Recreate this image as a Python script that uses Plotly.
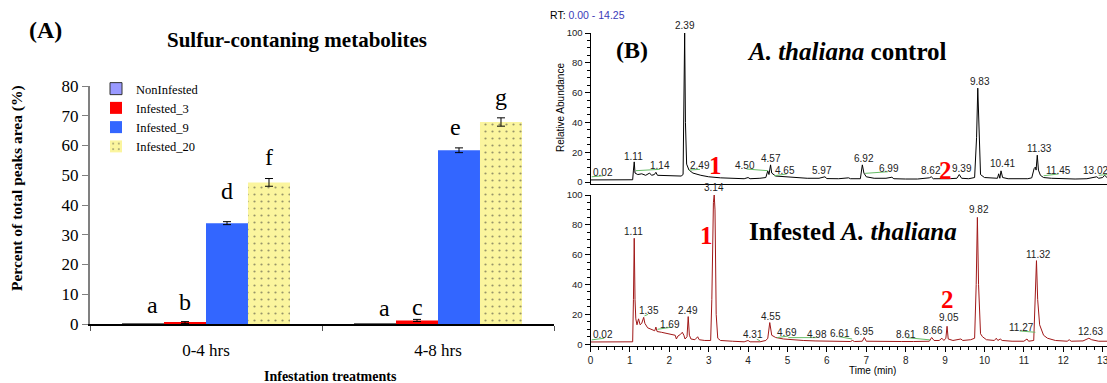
import plotly.graph_objects as go

W, H = 1107, 383
SERIF = "Liberation Serif, Times New Roman, serif"
SANS = "Liberation Sans, Arial, sans-serif"

# ---------------- Panel A data ----------------
groups = ["0-4 hrs", "4-8 hrs"]
series_names = ["NonInfested", "Infested_3", "Infested_9", "Infested_20"]
val_noninfested = [0.0, 0.0]
val_infested_3 = [0.5, 1.2]
val_infested_9 = [33.9, 58.4]
val_infested_20 = [47.6, 67.9]
err_noninfested = [0.0, 0.0]
err_infested_3 = [0.3, 0.35]
err_infested_9 = [0.5, 0.8]
err_infested_20 = [1.3, 1.4]
letters = [["a", "a"], ["b", "c"], ["d", "e"], ["f", "g"]]
letter_y = [[6.4, 5.3], [7.5, 5.8], [44.7, 66.3], [56.2, 76.4]]
letter_xshift = [[9, 9], [0, 0], [0, -4], [0, 0]]

# ---------------- Panel B data ----------------
control_t = [0.00, 0.30, 0.60, 0.90, 1.07, 1.09, 1.11, 1.13, 1.20, 1.30, 1.40, 1.50, 1.55, 1.62, 1.66, 1.70,
             1.85, 2.00, 2.20, 2.30, 2.35, 2.37, 2.39, 2.41, 2.44, 2.50, 2.60, 2.80, 3.00, 3.30, 3.60, 3.90,
             4.00, 4.05, 4.30, 4.45, 4.50, 4.53, 4.57, 4.60, 4.70, 4.90, 5.20, 5.50, 5.80, 5.95, 6.00, 6.30,
             6.55, 6.60, 6.85, 6.90, 6.94, 7.00, 7.20, 7.50, 7.65, 7.70, 8.00, 8.30, 8.60, 8.65, 8.70, 8.90,
             9.10, 9.30, 9.36, 9.42, 9.60, 9.75, 9.80, 9.83, 9.86, 9.90, 10.00, 10.20, 10.33, 10.36, 10.39,
             10.42, 10.46, 10.60, 10.90, 11.10, 11.20, 11.26, 11.29, 11.31, 11.34, 11.37, 11.42, 11.50, 11.70,
             12.00, 12.30, 12.60, 12.85, 12.90, 13.00, 13.05, 13.11]
control_v = [1.4, 1.5, 1.3, 1.5, 1.5, 8.0, 13.5, 6.0, 5.0, 5.5, 4.5, 6.0, 4.5, 5.0, 6.5, 4.5,
             4.5, 4.0, 4.2, 4.0, 5.0, 60.0, 100.0, 40.0, 12.0, 8.0, 6.0, 4.5, 3.5, 2.8, 2.5, 2.2,
             3.0, 2.2, 2.5, 3.0, 7.5, 5.0, 11.5, 6.0, 4.0, 3.5, 3.0, 2.5, 2.5, 3.5, 2.3, 2.2,
             2.8, 2.2, 2.2, 11.5, 6.0, 3.5, 2.5, 2.5, 3.2, 2.2, 2.0, 2.0, 2.8, 3.5, 2.2, 2.0,
             2.2, 2.5, 5.0, 2.5, 2.2, 3.0, 30.0, 63.0, 30.0, 5.0, 3.0, 2.5, 2.5, 5.5, 2.5,
             7.5, 3.0, 2.2, 2.0, 2.2, 2.8, 9.0, 10.0, 8.0, 18.0, 8.0, 4.5, 3.0, 2.5,
             2.2, 2.0, 2.2, 3.5, 2.5, 3.0, 4.5, 3.0]

infested_t = [0.00, 0.30, 0.60, 0.90, 1.07, 1.09, 1.11, 1.13, 1.15, 1.18, 1.22, 1.26, 1.30, 1.35, 1.38, 1.45,
              1.55, 1.63, 1.66, 1.69, 1.80, 2.00, 2.15, 2.18, 2.22, 2.28, 2.33, 2.37, 2.40, 2.45, 2.48, 2.51,
              2.55, 2.65, 2.72, 2.76, 2.90, 3.05, 3.08, 3.12, 3.14, 3.16, 3.19, 3.23, 3.30, 3.60, 3.90, 4.00,
              4.05, 4.30, 4.45, 4.50, 4.55, 4.60, 4.70, 4.90, 5.10, 5.40, 5.70, 6.00, 6.30, 6.60, 6.65, 6.70,
              6.90, 6.95, 7.00, 7.30, 7.60, 7.90, 8.20, 8.50, 8.60, 8.66, 8.72, 8.85, 8.92, 8.97, 9.02, 9.05,
              9.08, 9.20, 9.40, 9.45, 9.65, 9.75, 9.79, 9.82, 9.85, 9.90, 9.95, 10.05, 10.25, 10.30, 10.34,
              10.40, 10.45, 10.70, 11.00, 11.08, 11.12, 11.25, 11.29, 11.32, 11.35, 11.40, 11.50, 11.60, 11.80,
              12.10, 12.15, 12.20, 12.50, 12.60, 12.65, 12.72, 12.90, 13.11]
infested_v = [1.5, 1.6, 1.5, 1.5, 1.6, 30.0, 71.0, 30.0, 17.0, 13.0, 17.0, 13.0, 14.0, 18.0, 14.0, 11.0,
              10.0, 9.0, 11.5, 8.5, 8.0, 7.0, 6.0, 3.5, 5.5, 6.5, 8.0, 6.0, 3.5, 5.0, 18.5, 6.0,
              3.5, 3.0, 5.0, 3.0, 2.5, 2.5, 30.0, 95.0, 100.0, 90.0, 20.0, 4.0, 2.5, 2.0, 1.6, 2.5,
              1.6, 1.6, 2.5, 4.0, 14.5, 6.0, 4.5, 3.5, 3.0, 2.5, 2.2, 2.0, 1.8, 1.8, 2.5, 1.8,
              2.0, 4.5, 2.0, 1.8, 1.8, 1.8, 1.8, 2.0, 2.0, 4.5, 2.5, 2.5, 4.0, 2.5, 4.0, 12.0,
              3.5, 2.5, 3.5, 2.5, 3.0, 4.0, 40.0, 85.0, 40.0, 7.0, 5.0, 3.0, 2.5, 4.0, 2.5,
              3.5, 2.5, 2.0, 2.0, 3.5, 2.0, 2.5, 30.0, 56.0, 30.0, 13.0, 6.0, 4.0, 2.5,
              2.0, 3.0, 2.0, 2.2, 3.5, 4.0, 3.0, 2.0, 2.0]

control_label_text = ["0.02", "1.11", "1.14", "2.39", "2.49", "4.50", "4.57", "4.65", "5.97", "6.92", "6.99",
                      "8.62", "9.39", "9.83", "10.41", "11.33", "11.45", "13.02"]
control_label_t = [0.32, 1.10, 1.77, 2.39, 2.78, 3.92, 4.57, 4.94, 5.88, 6.93, 7.57,
                   8.64, 9.43, 9.88, 10.46, 11.39, 11.88, 12.83]
control_label_v = [1.5, 12.3, 6.2, 100.0, 6.2, 6.2, 10.9, 2.7, 2.7, 10.9, 4.0,
                   2.9, 4.0, 62.6, 7.4, 17.4, 2.9, 2.9]

infested_label_text = ["0.02", "1.11", "1.35", "1.69", "2.49", "3.14", "4.31", "4.55", "4.69", "4.98", "6.61",
                       "6.95", "8.61", "8.66", "9.05", "9.82", "11.27", "11.32", "12.63"]
infested_label_t = [0.32, 1.10, 1.48, 2.02, 2.48, 3.14, 4.12, 4.57, 5.00, 5.74, 6.34,
                    6.95, 8.01, 8.69, 9.09, 9.87, 10.93, 11.38, 12.69]
infested_label_v = [1.5, 70.8, 17.8, 8.2, 17.8, 100.0, 1.5, 13.8, 3.0, 1.5, 2.1,
                    3.7, 1.5, 4.4, 12.7, 85.4, 6.4, 55.2, 3.7]

# integration baseline segments: [t_start, v_start, t_end, v_end]
control_baselines = [[0.03, 3.5, 0.32, 4.2], [1.15, 7.6, 1.76, 8.5], [2.50, 8.0, 2.78, 8.5],
                     [3.96, 8.7, 4.50, 7.6], [4.66, 4.2, 4.98, 5.4], [6.97, 5.8, 7.55, 6.9],
                     [11.50, 4.2, 11.88, 5.4], [12.90, 4.5, 13.11, 5.0]]
infested_baselines = [[0.03, 2.9, 0.35, 4.0], [1.37, 19.0, 1.46, 20.0], [1.70, 10.0, 2.06, 11.4],
                      [4.22, 3.3, 4.30, 2.4], [4.73, 4.4, 5.02, 5.5], [5.02, 4.4, 5.74, 4.4],
                      [6.30, 5.1, 6.64, 3.5], [8.03, 4.4, 8.62, 2.9], [10.89, 8.9, 11.29, 8.0]]

# compound markers (red numbers)
control_marks = [["1", 3.16, 10.9], ["2", 9.02, 7.6]]
infested_marks = [["1", 2.95, 72.6], ["2", 9.07, 30.3]]

# ---------------- figure ----------------
def px_x(p):
    return p / W

def px_y(p):
    return (H - p) / H

fig = go.Figure()

bar_vals = [val_noninfested, val_infested_3, val_infested_9, val_infested_20]
bar_errs = [err_noninfested, err_infested_3, err_infested_9, err_infested_20]
bar_markers = [
    dict(color="#9999FF", line=dict(color="#333333", width=1)),
    dict(color="#FF0000", line=dict(width=0)),
    dict(color="#3366FF", line=dict(width=0)),
    dict(color="#FBF59E", line=dict(width=0),
         pattern=dict(shape=".", fgcolor="#333333", size=7, solidity=0.08)),
]
for i, name in enumerate(series_names):
    fig.add_trace(go.Bar(
        x=groups, y=bar_vals[i], name=name, marker=bar_markers[i],
        error_y=dict(type="data", array=bar_errs[i], color="black", thickness=1, width=4,
                     visible=(i > 0)),
        xaxis="x", yaxis="y", showlegend=True,
    ))

def seg_xy(segs):
    xs, ys = [], []
    for s in segs:
        xs += [s[0], s[2], None]
        ys += [s[1], s[3], None]
    return xs, ys

fig.add_trace(go.Scatter(x=control_t, y=control_v, mode="lines", line=dict(color="black", width=1),
                         xaxis="x2", yaxis="y2", showlegend=False, hoverinfo="skip"))
gx, gy = seg_xy(control_baselines)
fig.add_trace(go.Scatter(x=gx, y=gy, mode="lines", line=dict(color="#66BB66", width=1),
                         xaxis="x2", yaxis="y2", showlegend=False, hoverinfo="skip"))
fig.add_trace(go.Scatter(x=infested_t, y=infested_v, mode="lines", line=dict(color="#A01818", width=1),
                         xaxis="x3", yaxis="y3", showlegend=False, hoverinfo="skip"))
gx, gy = seg_xy(infested_baselines)
fig.add_trace(go.Scatter(x=gx, y=gy, mode="lines", line=dict(color="#66BB66", width=1),
                         xaxis="x3", yaxis="y3", showlegend=False, hoverinfo="skip"))

annotations = []
bargap = 0.276
bw = (1 - bargap) / 4
for si in range(4):
    for gi in range(2):
        annotations.append(dict(
            x=gi + (si - 1.5) * bw, y=letter_y[si][gi], xref="x", yref="y",
            text=letters[si][gi], showarrow=False, xanchor="center", yanchor="middle",
            xshift=letter_xshift[si][gi], font=dict(family=SERIF, size=24, color="black")))

for txt, t, v in zip(control_label_text, control_label_t, control_label_v):
    annotations.append(dict(x=t, y=v, xref="x2", yref="y2", text=txt, showarrow=False,
                            xanchor="center", yanchor="bottom",
                            font=dict(family=SANS, size=10, color="#222222")))
for txt, t, v in zip(infested_label_text, infested_label_t, infested_label_v):
    annotations.append(dict(x=t, y=v, xref="x3", yref="y3", text=txt, showarrow=False,
                            xanchor="center", yanchor="bottom",
                            font=dict(family=SANS, size=10, color="#222222")))
for txt, t, v in control_marks:
    annotations.append(dict(x=t, y=v, xref="x2", yref="y2", text="<b>%s</b>" % txt, showarrow=False,
                            xanchor="center", yanchor="middle",
                            font=dict(family=SERIF, size=25, color="#FF0000")))
for txt, t, v in infested_marks:
    annotations.append(dict(x=t, y=v, xref="x3", yref="y3", text="<b>%s</b>" % txt, showarrow=False,
                            xanchor="center", yanchor="middle",
                            font=dict(family=SERIF, size=25, color="#FF0000")))

def paper_text(x, y, text, size, family, angle=0, color="black"):
    annotations.append(dict(x=px_x(x), y=px_y(y), xref="paper", yref="paper", text=text,
                            showarrow=False, xanchor="center", yanchor="middle", textangle=angle,
                            font=dict(family=family, size=size, color=color)))

paper_text(45, 30, "<b>(A)</b>", 24, SERIF)
paper_text(297, 40, "<b>Sulfur-contaning metabolites</b>", 21, SERIF)
paper_text(17, 188, "<b>Percent of total peaks area (%)</b>", 15.5, SERIF, angle=-90)
paper_text(330, 376, "<b>Infestation treatments</b>", 14, SERIF)
paper_text(632, 50, "<b>(B)</b>", 24, SERIF)
paper_text(847, 51, "<b><i>A. thaliana</i> control</b>", 25, SERIF)
paper_text(853, 232, "<b>Infested <i>A. thaliana</i></b>", 25, SERIF)
paper_text(587, 15, "RT: <span style='color:#3A3AB8'>0.00 - 14.25</span>", 10.5, SANS)
paper_text(561, 108, "Relative Abundance", 10, SANS, angle=-90)
paper_text(872, 370, "Time (min)", 10, SANS)

fig.update_layout(
    width=W, height=H, margin=dict(l=0, r=0, t=0, b=0),
    paper_bgcolor="white", plot_bgcolor="white",
    barmode="group", bargap=bargap, bargroupgap=0,
    showlegend=True,
    legend=dict(x=px_x(96), y=px_y(74), xanchor="left", yanchor="top",
                font=dict(family=SERIF, size=12.5, color="black"),
                bgcolor="rgba(0,0,0,0)", tracegroupgap=0, itemwidth=30),
    annotations=annotations,
    xaxis=dict(domain=[px_x(90), px_x(554)], anchor="y", type="category", range=[-0.5, 1.5],
               showline=True, linecolor="black", linewidth=1.5, ticks="outside", tickson="boundaries",
               ticklen=5, tickcolor="#555555", showgrid=False, zeroline=False,
               tickfont=dict(family=SERIF, size=17, color="black"), ticklabelstandoff=10,
               automargin=False),
    yaxis=dict(domain=[px_y(324), px_y(86)], anchor="x", range=[0, 80], dtick=10,
               showline=True, linecolor="#808080", linewidth=2, ticks="outside", ticklen=6,
               tickcolor="#808080", showgrid=False, zeroline=False,
               tickfont=dict(family=SERIF, size=17, color="black"), automargin=False),
    xaxis2=dict(domain=[px_x(590.5), 1.0], anchor="y2", range=[0, 13.11],
                showline=True, linecolor="black", linewidth=1, ticks="", showticklabels=False,
                showgrid=False, zeroline=False, automargin=False),
    yaxis2=dict(domain=[px_y(183.5), px_y(33)], anchor="x2", range=[-1, 100],
                tickvals=[0, 20, 40, 60, 80, 100], showline=True, linecolor="black", linewidth=1,
                ticks="outside", ticklen=5, tickcolor="black", showgrid=False, zeroline=False,
                minor=dict(dtick=5, ticklen=3, ticks="outside", tickcolor="black"),
                tickfont=dict(family=SANS, size=9.5, color="#222222"), automargin=False),
    xaxis3=dict(domain=[px_x(590.5), 1.0], anchor="y3", range=[0, 13.11], dtick=1,
                showline=True, linecolor="black", linewidth=1, ticks="outside", ticklen=5,
                tickcolor="black", showgrid=False, zeroline=False, ticklabeloverflow="allow",
                minor=dict(dtick=0.2, ticklen=3, ticks="outside", tickcolor="black"),
                tickfont=dict(family=SANS, size=10, color="#222222"), automargin=False),
    yaxis3=dict(domain=[px_y(345.7), px_y(195)], anchor="x3", range=[-1, 100],
                tickvals=[0, 20, 40, 60, 80, 100], showline=True, linecolor="black", linewidth=1,
                ticks="outside", ticklen=5, tickcolor="black", showgrid=False, zeroline=False,
                minor=dict(dtick=5, ticklen=3, ticks="outside", tickcolor="black"),
                tickfont=dict(family=SANS, size=9.5, color="#222222"), automargin=False),
)

fig.write_html("out.html", config={"displayModeBar": False},
               post_script="document.body.style.margin='0px';document.body.style.overflow='hidden';")
